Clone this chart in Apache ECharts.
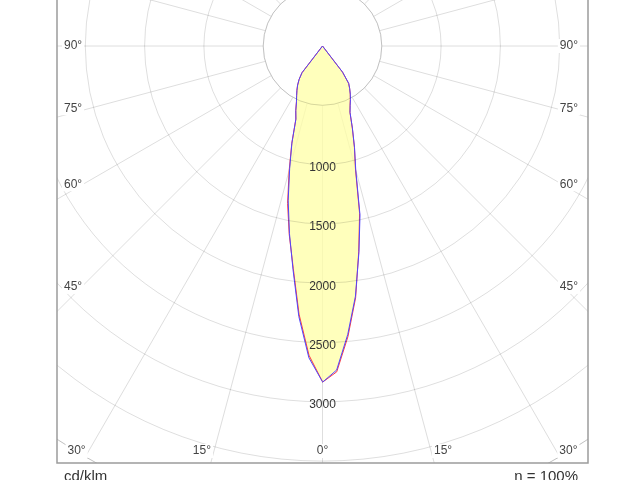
<!DOCTYPE html>
<html>
<head>
<meta charset="utf-8">
<script src="https://cdn.jsdelivr.net/npm/echarts@6/dist/echarts.min.js"></script>
<style>
  html, body { margin: 0; padding: 0; background: #fff; }
  #chart { width: 640px; height: 480px; }
</style>
</head>
<body>
<div id="chart"></div>
<script>
// gamma angles (deg from nadir) and intensities in cd/klm
const gammas = [0, 2.5, 5, 7.5, 10, 12.5, 15, 17.5, 20, 22.5, 25, 27.5, 30, 32.5, 35, 37.5, 40, 45, 60, 75, 90];
const c0Left = [2831, 2610, 2270, 1890, 1615, 1360, 1085, 862, 658, 590, 520, 473, 432, 391, 344, 285, 0, 0, 0, 0, 0];
const c0Right = [2835, 2750, 2460, 2140, 1760, 1445, 1075, 895, 735, 605, 550, 508, 468, 426, 384, 278, 0, 0, 0, 0, 0];
const c90Left = [2831, 2631, 2290, 1903, 1605, 1337, 1070, 857, 655, 588, 519, 472, 431, 390, 343, 284, 0, 0, 0, 0, 0];
const c90Right = [2835, 2735, 2442, 2128, 1768, 1461, 1083, 898, 737, 606, 552, 510, 469, 427, 385, 278, 0, 0, 0, 0, 0];

const ringLabels = [1000, 1500, 2000, 2500, 3000];
const angleTicks = [0, 15, 30, 45, 60, 75, 90];
const unitText = "cd/klm";
const effText = "η = 100%";

const CX = 322.5, CY = 46;
const R_IN = 59.3, R_OUT = 474.4;
const FRAME = { left: 57, right: 588, bottom: 463 };
const GRID = "#dedede";
const FONT = '"Liberation Sans", Arial, sans-serif';

function plane(left, right) {
  const pts = gammas.map((g, i) => [left[i], g]);
  for (let i = gammas.length - 1; i >= 0; i--) pts.push([right[i], 360 - gammas[i]]);
  return pts;
}

function angleLabels() {
  const out = [];
  const deg = Math.PI / 180;
  const halfW = CX - 73;
  angleTicks.forEach((a) => {
    [-1, 1].forEach((side) => {
      if (a === 0 && side === 1) return;
      const tilt = a < 90 ? 1 : 0;
      const ySide = CY + halfW * Math.tan((90 - a - tilt) * deg);
      let x, y, align;
      if (ySide < 440) {
        y = ySide;
        x = side < 0 ? 62 : 580;
        align = side < 0 ? "left" : "right";
      } else {
        y = 451;
        const spokeX = CX + side * (y - CY) * Math.tan(a * deg);
        if (a === 0) { x = CX; align = "center"; }
        else { x = spokeX + side * 1; align = side < 0 ? "right" : "left"; }
      }
      out.push({
        type: "text", x, y, z: 20,
        style: {
          text: a + "°", font: "12px " + FONT, fill: "#444",
          align, verticalAlign: "middle", backgroundColor: "#fff", padding: [1, 2]
        }
      });
    });
  });
  return out;
}

const chart = echarts.init(document.getElementById("chart"), null, { renderer: "canvas" });

const curve = { type: "line", coordinateSystem: "polar", polarIndex: 1, symbol: "none", silent: true, z: 2 };

chart.setOption({
  animation: false,
  backgroundColor: "#fff",
  polar: [
    { center: [CX, CY], radius: [R_IN, R_OUT] },
    { center: [CX, CY], radius: R_OUT }
  ],
  angleAxis: [
    {
      polarIndex: 0, type: "value", min: 0, max: 360, interval: 15,
      startAngle: 270, clockwise: true, z: 0,
      axisLine: { show: true, lineStyle: { color: GRID, width: 1 } },
      axisTick: { show: false },
      axisLabel: { show: false },
      splitLine: { show: true, lineStyle: { color: GRID, width: 1 } }
    },
    {
      polarIndex: 1, type: "value", min: 0, max: 360,
      startAngle: 270, clockwise: true, show: false
    }
  ],
  radiusAxis: [
    {
      polarIndex: 0, type: "value", min: 500, max: 4000, interval: 500, z: 3,
      axisLine: { show: false },
      axisTick: { show: false },
      splitLine: { show: true, lineStyle: { color: "rgba(0,0,0,0.13)", width: 1 } },
      axisLabel: {
        margin: 0, align: "center", verticalAlign: "top", lineHeight: 6,
        color: "#333", fontSize: 12, fontFamily: FONT,
        formatter: (v) => (ringLabels.includes(v) ? String(v) : "")
      }
    },
    { polarIndex: 1, type: "value", min: 0, max: 4000, show: false }
  ],
  series: [
    {
      ...curve, name: "fill", data: plane(c90Left, c90Right),
      lineStyle: { width: 0 },
      areaStyle: { color: "rgba(255,255,165,0.75)", opacity: 1 }
    },
    {
      ...curve, name: "C0-C180", data: plane(c0Left, c0Right),
      lineStyle: { color: "#ff3c3c", width: 1 }
    },
    {
      ...curve, name: "C90-C270", data: plane(c90Left, c90Right),
      lineStyle: { color: "#5046ff", width: 1 }
    }
  ],
  graphic: [
    { type: "rect", z: 10, shape: { x: 0, y: 0, width: FRAME.left, height: 480 }, style: { fill: "#fff" } },
    { type: "rect", z: 10, shape: { x: FRAME.right, y: 0, width: 640 - FRAME.right, height: 480 }, style: { fill: "#fff" } },
    { type: "rect", z: 10, shape: { x: 0, y: FRAME.bottom, width: 640, height: 480 - FRAME.bottom }, style: { fill: "#fff" } },
    {
      type: "rect", z: 11,
      shape: { x: FRAME.left, y: -10, width: FRAME.right - FRAME.left, height: FRAME.bottom + 10 },
      style: { fill: "none", stroke: "#9c9c9c", lineWidth: 1.5 }
    },
    ...angleLabels(),
    {
      type: "text", x: 64, y: 469, z: 20,
      style: { text: unitText, font: "15px " + FONT, fill: "#333", align: "left", verticalAlign: "top" }
    },
    {
      type: "text", x: 578, y: 469, z: 20,
      style: { text: effText, font: "15px " + FONT, fill: "#333", align: "right", verticalAlign: "top" }
    }
  ]
});
</script>
</body>
</html>
